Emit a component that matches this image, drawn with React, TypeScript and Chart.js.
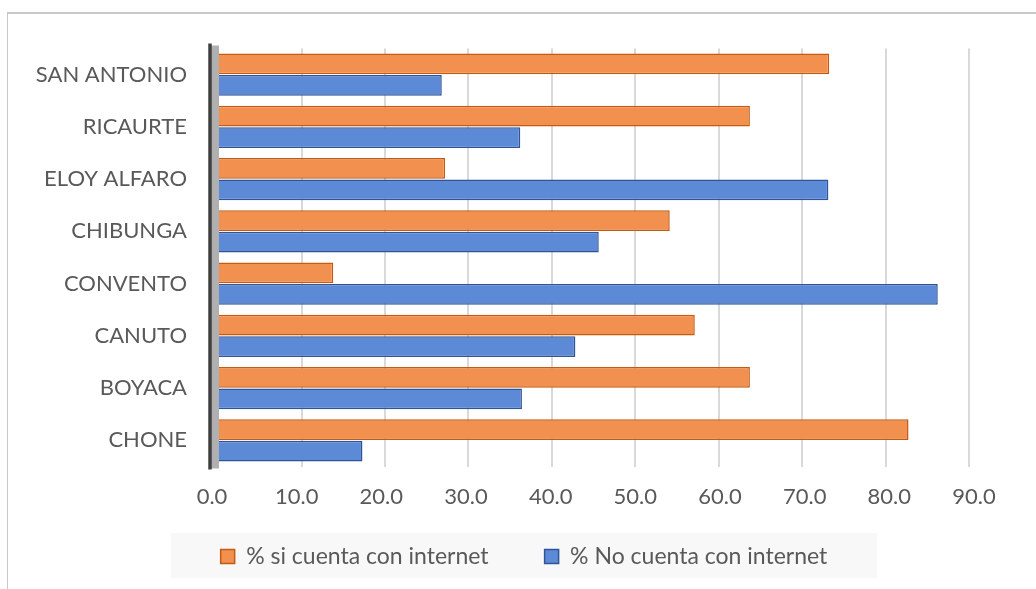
import React, { useEffect, useRef } from "react";
import { Chart, registerables } from "chart.js";

Chart.register(...registerables);

const categories = ["SAN ANTONIO", "RICAURTE", "ELOY ALFARO", "CHIBUNGA", "CONVENTO", "CANUTO", "BOYACA", "CHONE"];
const siInternet = [73.2, 63.7, 27.2, 54.1, 13.8, 57.1, 63.7, 82.7];
const noInternet = [26.8, 36.2, 73.1, 45.6, 86.2, 42.8, 36.4, 17.3];
const seriesNames = ["% si cuenta con internet", "% No cuenta con internet"];
const xTickStep = 10;
const xTickMin = 0;
const xTickMax = 90;

const FONT = "Lato, 'Open Sans', sans-serif";
const TEXT = "#595959";

const wallPlugin = {
  id: "wall",
  beforeDatasetsDraw(chart: any) {
    const { ctx, chartArea } = chart;
    ctx.save();
    ctx.fillStyle = "#b0b0b0";
    ctx.fillRect(chartArea.left - 1, chartArea.top - 3, 8, chartArea.bottom - chartArea.top + 5);
    ctx.strokeStyle = "#404040";
    ctx.lineWidth = 3.5;
    ctx.beginPath();
    ctx.moveTo(chartArea.left - 2, chartArea.top - 5);
    ctx.lineTo(chartArea.left - 2, chartArea.bottom + 3);
    ctx.stroke();
    ctx.restore();
  },
};

export default function App() {
  const ref = useRef<HTMLCanvasElement>(null);
  useEffect(() => {
    if (!ref.current) return;
    const chart = new Chart(ref.current, {
      type: "bar",
      data: {
        labels: categories,
        datasets: [
          {
            label: seriesNames[0],
            data: siInternet,
            backgroundColor: "#f2904f",
            borderColor: "#c55a11",
            borderWidth: 1.5,
            categoryPercentage: 0.82,
            barPercentage: 0.97,
            xAxisID: "xv",
          },
          {
            label: seriesNames[1],
            data: noInternet,
            backgroundColor: "#5d8ad6",
            borderColor: "#2f5597",
            borderWidth: 1.5,
            categoryPercentage: 0.82,
            barPercentage: 0.97,
            xAxisID: "xv",
          },
        ],
      },
      options: {
        indexAxis: "y",
        responsive: false,
        animation: false,
        layout: { padding: { left: 12, right: 0, top: 48.5, bottom: 11 } },
        scales: {
          x: {
            type: "linear",
            position: "bottom",
            min: xTickMin,
            max: xTickMax,
            ticks: {
              stepSize: xTickStep,
              mirror: true,
              padding: -44,
              color: TEXT,
              font: { family: FONT, size: 22 },
              callback: (v: any) => Number(v).toFixed(1),
            },
            grid: { display: false, drawTicks: false },
            border: { display: false },
            afterFit: (s: any) => {
              s.height = 22.5;
            },
          },
          xv: {
            type: "linear",
            axis: "x",
            position: "bottom",
            min: -0.719,
            max: 90.54,
            ticks: { display: false, stepSize: xTickStep, includeBounds: false },
            grid: { color: "#d9d9d9", lineWidth: 2, drawTicks: false },
            border: { display: false },
            afterFit: (s: any) => {
              s.height = 0;
            },
          },
          y: {
            ticks: {
              padding: 25,
              color: TEXT,
              font: { family: FONT, size: 22 },
            },
            grid: { display: false, drawTicks: false },
            border: { display: false },
            afterFit: (s: any) => {
              s.width = 200;
            },
          },
          yr: {
            type: "linear",
            axis: "y",
            position: "right",
            ticks: { display: false },
            grid: { display: false, drawTicks: false },
            border: { display: false },
            afterFit: (s: any) => {
              s.width = 62;
            },
          },
        },
        plugins: {
          legend: {
            position: "bottom",
            labels: {
              color: TEXT,
              font: { family: FONT, size: 23 },
              boxWidth: 14,
              boxHeight: 14,
              padding: 56,
            },
          },
          tooltip: { enabled: false },
        },
      },
      plugins: [wallPlugin],
    } as any);
    return () => chart.destroy();
  }, []);

  return (
    <div style={{ position: "fixed", left: 0, top: 0, width: 1036, height: 589, background: "#fff", overflow: "hidden" }}>
      <div
        style={{
          position: "absolute",
          left: 7,
          top: 12,
          width: 1100,
          height: 700,
          borderLeft: "1.5px solid #c8c8c8",
          borderTop: "2px solid #c8c8c8",
        }}
      />
      <div style={{ position: "absolute", left: 171, top: 533, width: 706, height: 45, background: "#f8f8f8" }} />
      <canvas ref={ref} width={1036} height={589} style={{ position: "absolute", left: 0, top: 0 }} />
    </div>
  );
}
